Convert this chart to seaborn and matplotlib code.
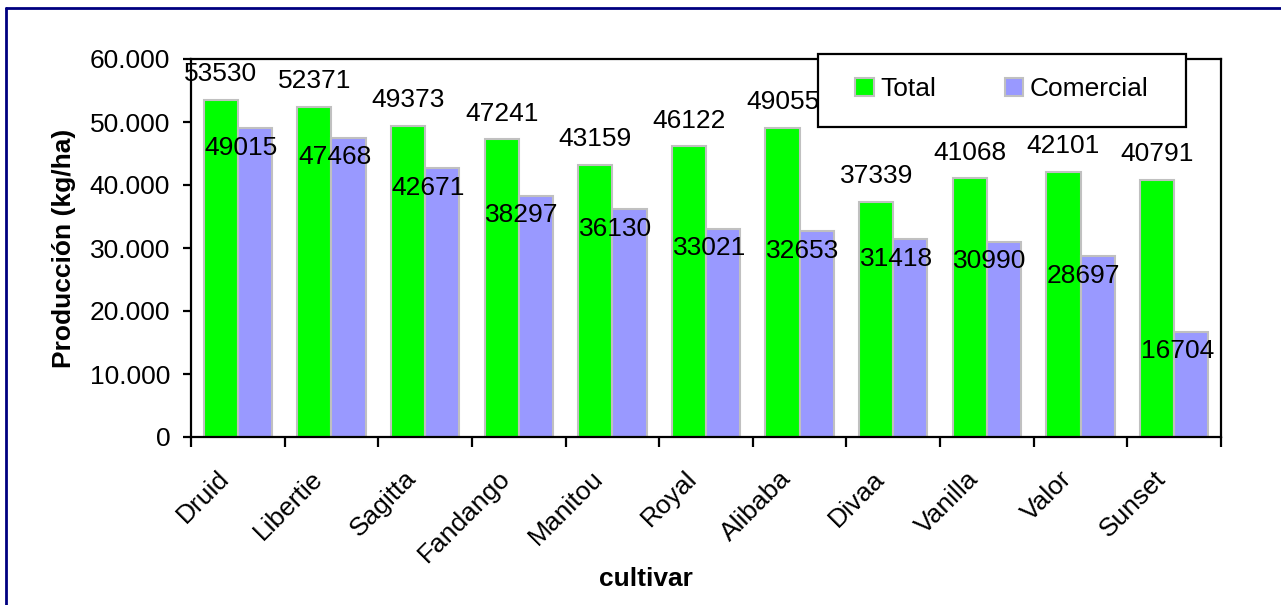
import numpy as np
import pandas as pd
import matplotlib
matplotlib.use("Agg")
import matplotlib.pyplot as plt
from matplotlib.patches import Rectangle, Patch
from matplotlib.lines import Line2D
from matplotlib.ticker import FuncFormatter, FixedLocator
from matplotlib.transforms import ScaledTranslation
import seaborn as sns

# Yield per cultivar (kg/ha)
cultivars = ["Druid", "Libertie", "Sagitta", "Fandango", "Manitou", "Royal",
             "Alibaba", "Divaa", "Vanilla", "Valor", "Sunset"]
total = [53530, 52371, 49373, 47241, 43159, 46122, 49055, 37339, 41068, 42101, 40791]
comercial = [49015, 47468, 42671, 38297, 36130, 33021, 32653, 31418, 30990, 28697, 16704]
series_names = ["Total", "Comercial"]
series_colors = ["#00FF00", "#9999FF"]

df = pd.DataFrame({
    "cultivar": cultivars * 2,
    "serie": [series_names[0]] * len(cultivars) + [series_names[1]] * len(cultivars),
    "produccion": total + comercial,
})

sns.set_theme(style="white")
plt.rcParams["font.family"] = ["Liberation Sans", "DejaVu Sans"]
plt.rcParams["text.color"] = "black"
plt.rcParams["axes.labelcolor"] = "black"
plt.rcParams["xtick.color"] = "black"
plt.rcParams["ytick.color"] = "black"

FS = 19

W, H = 1281, 605
fig = plt.figure(figsize=(W / 100, H / 100), dpi=100)
ax = fig.add_axes([191 / W, 1 - 437 / H, (1221 - 191) / W, (437 - 59) / H])

sns.barplot(data=df, x="cultivar", y="produccion", hue="serie",
            order=cultivars, hue_order=series_names,
            palette=series_colors, width=0.73, gap=0,
            edgecolor="#C0C0C0", linewidth=1.5, saturation=1,
            errorbar=None, legend=False, ax=ax)

ax.set_xlim(-0.5, len(cultivars) - 0.5)
ax.set_ylim(0, 60000)
ax.set_yticks(np.arange(0, 60001, 10000))
ax.yaxis.set_major_formatter(FuncFormatter(lambda v, p: f"{int(v):,}".replace(",", ".")))

# value labels: totals above the bars, commercial values inside the bars
for cont, name in zip(ax.containers, series_names):
    for bar, val in zip(cont, total if name == "Total" else comercial):
        cx = bar.get_x() + bar.get_width() / 2
        if name == "Total":
            ax.annotate(f"{val}", (cx, val), xytext=(0, 18.5), textcoords="offset points",
                        ha="center", va="center", fontsize=FS, color="black",
                        annotation_clip=False, zorder=6)
        else:
            ax.annotate(f"{val}", (cx, val), xytext=(-10, -14), textcoords="offset points",
                        ha="center", va="center", fontsize=FS, color="black", zorder=6)

# spines and ticks
for s in ax.spines.values():
    s.set_visible(True)
    s.set_color("black")
    s.set_linewidth(1.6)

ax.tick_params(axis="y", which="major", direction="out", length=6, width=1.6,
               color="black", labelcolor="black", labelsize=FS, pad=9, left=True)
ax.tick_params(axis="x", which="major", length=0, labelsize=FS, labelcolor="black", pad=6)
ax.xaxis.set_minor_locator(FixedLocator(np.arange(-0.5, len(cultivars), 1.0)))
ax.tick_params(axis="x", which="minor", direction="out", length=7, width=1.6,
               color="black", bottom=True)
ax.set_xticks(range(len(cultivars)))
ax.set_xticklabels(cultivars, rotation=45, ha="right", rotation_mode="anchor")
shift = ScaledTranslation(-21 / 100, -21 / 100, fig.dpi_scale_trans)
for lbl in ax.get_xticklabels():
    lbl.set_transform(lbl.get_transform() + shift)

ax.set_xlabel("cultivar", fontsize=FS, fontweight="bold", color="black")
ax.xaxis.set_label_coords(0.442, -0.344)
ax.set_ylabel("Producción (kg/ha)", fontsize=FS, fontweight="bold", labelpad=10, color="black")

# legend box
frame = Rectangle((818 / W, 1 - 127 / H), (1186 - 818) / W, (127 - 54) / H,
                  transform=fig.transFigure, facecolor="white", edgecolor="black",
                  linewidth=1.6, clip_on=False, zorder=10)
ax.add_patch(frame)
handles = [Patch(facecolor=c, edgecolor="#C0C0C0", linewidth=1.5) for c in series_colors]
leg = ax.legend(handles, series_names, loc="center",
                bbox_to_anchor=(1002 / W, 1 - 89 / H), bbox_transform=fig.transFigure,
                ncol=2, frameon=False, fontsize=FS, handlelength=0.7,
                handleheight=0.7, handletextpad=0.25, columnspacing=2.6)
leg.set_zorder(11)
for t in leg.get_texts():
    t.set_color("black")

# outer border (top and left edges)
fig.add_artist(Line2D([5.5 / W, 1.0], [1 - 7.5 / H, 1 - 7.5 / H], transform=fig.transFigure,
                      color="#000080", linewidth=2))
fig.add_artist(Line2D([5.5 / W, 5.5 / W], [0.0, 1 - 7.5 / H], transform=fig.transFigure,
                      color="#000080", linewidth=2))

fig.savefig("out.png", dpi=100, facecolor="white")
